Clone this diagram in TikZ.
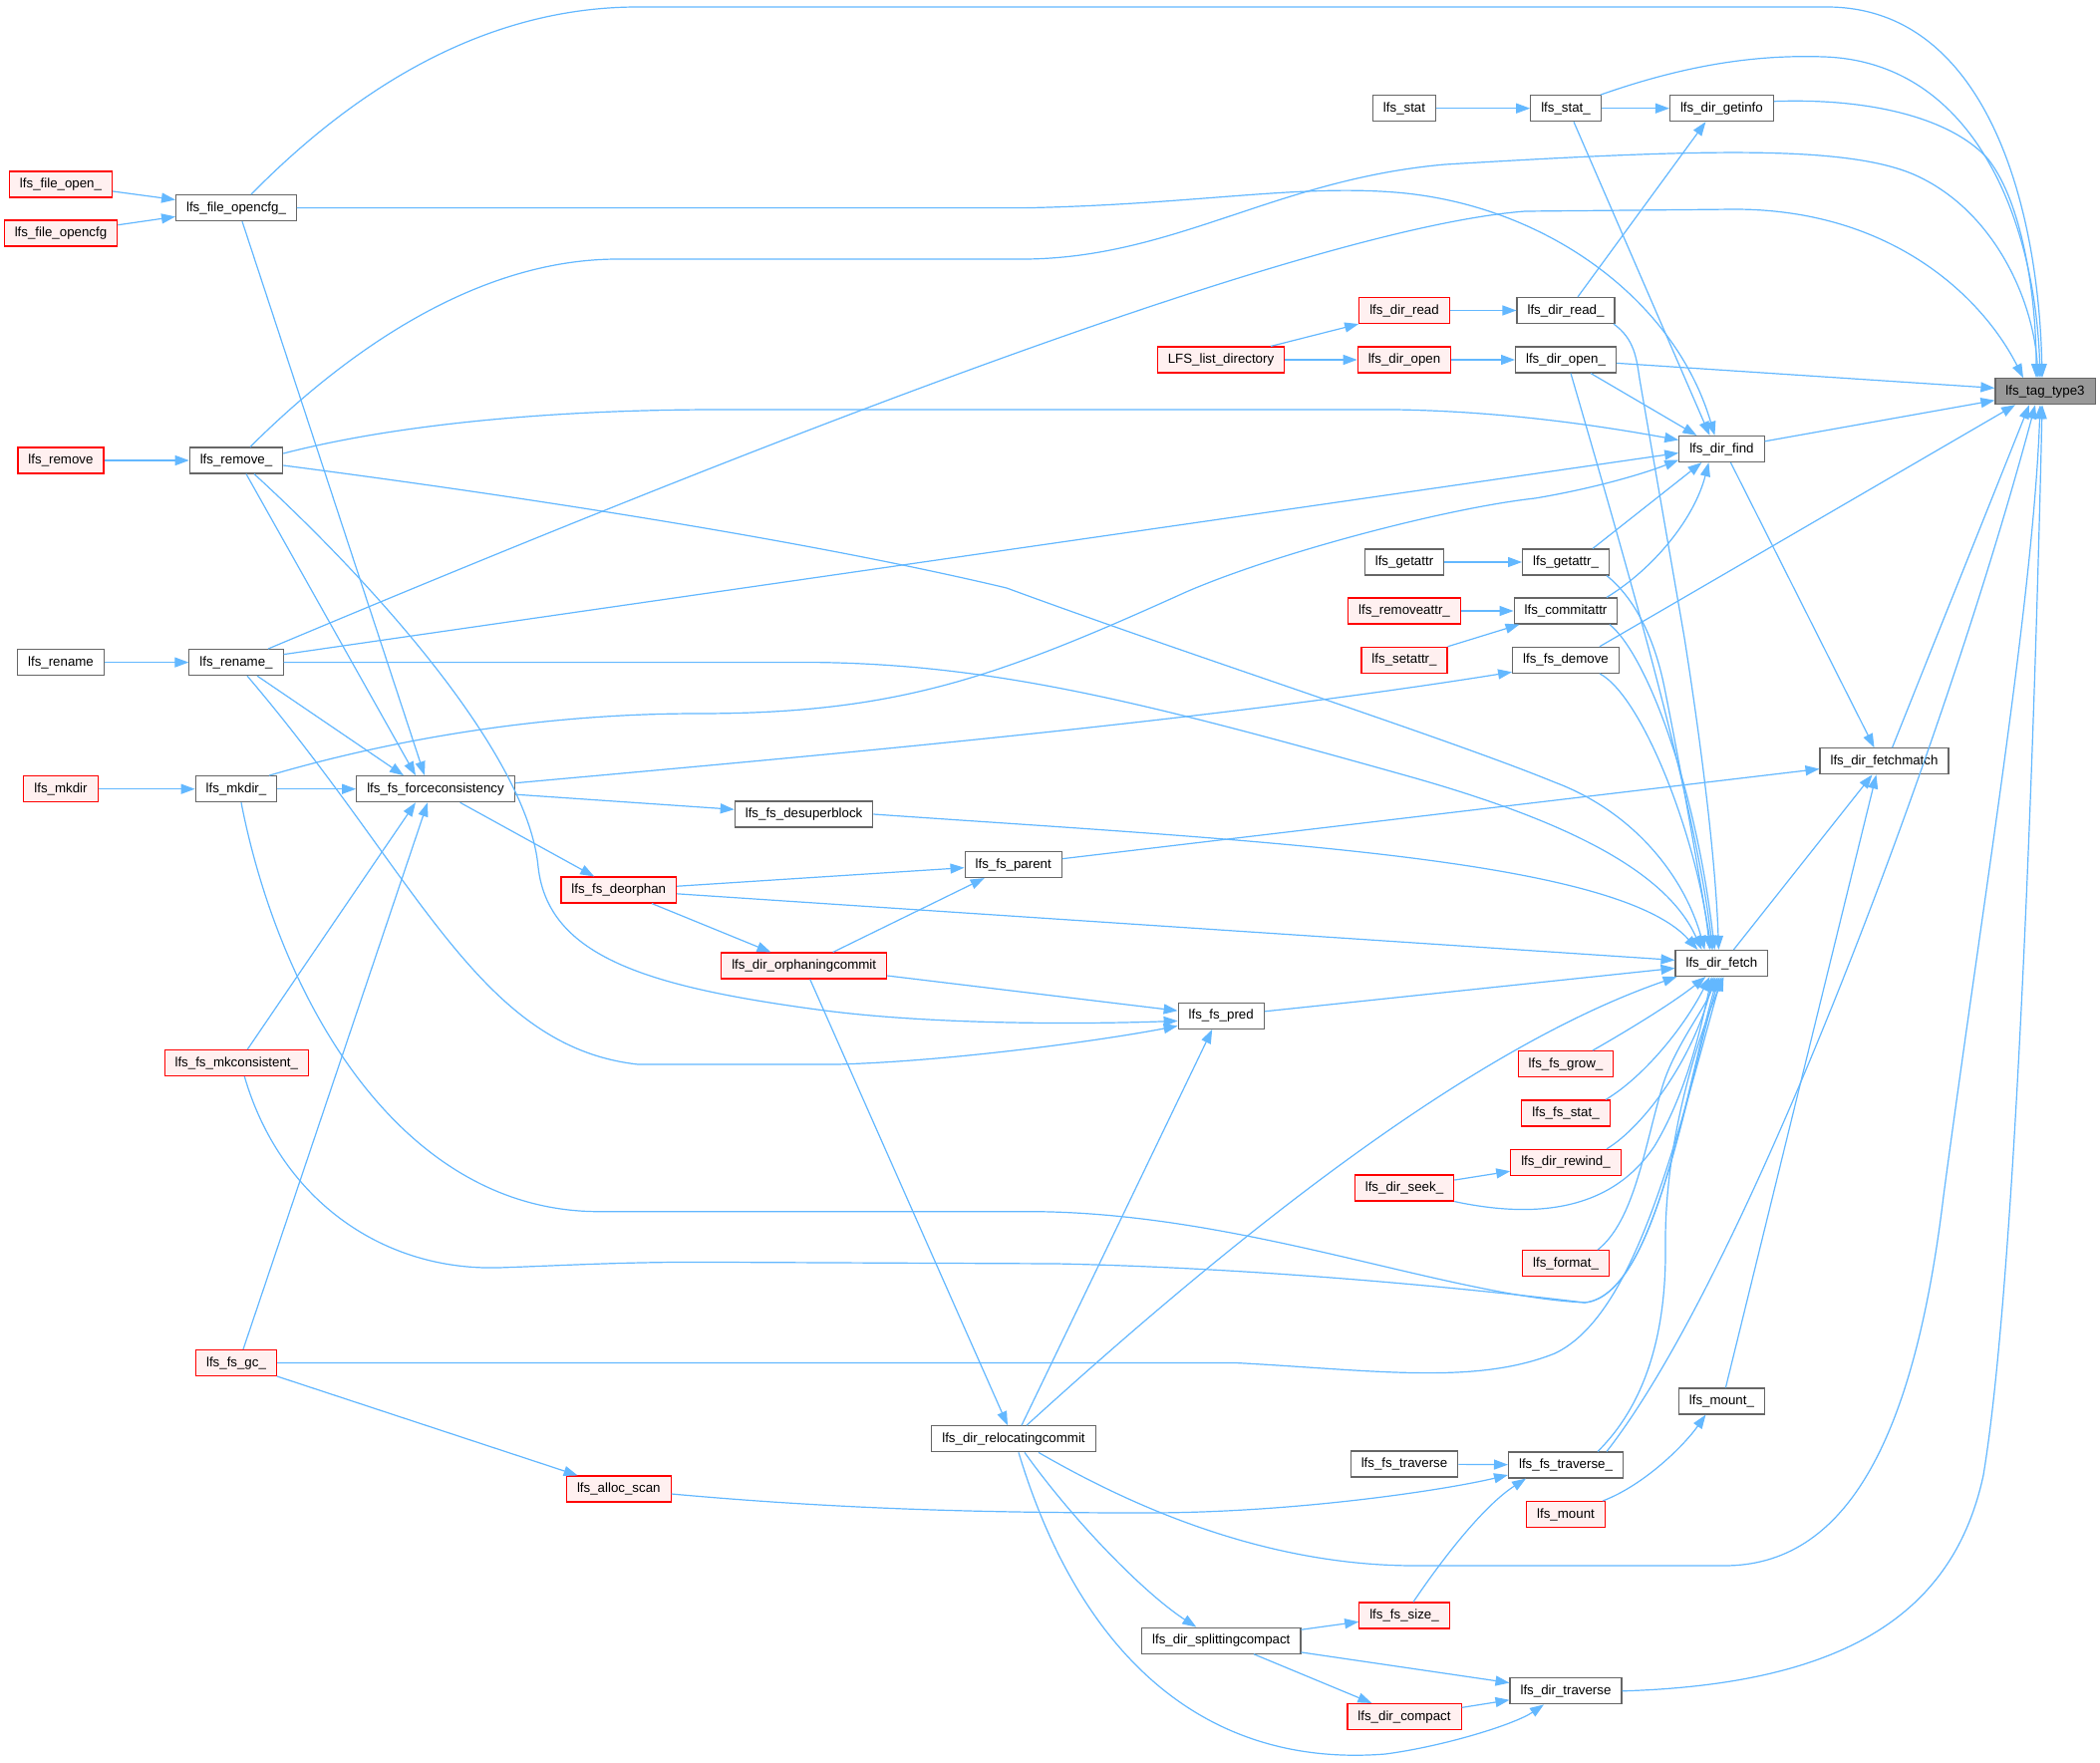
\documentclass[tikz,border=0pt]{standalone}
\usepackage{fontspec}
\setmainfont{Liberation Sans}
\usetikzlibrary{arrows.meta}

\definecolor{edgeblue}{HTML}{63B8FF}
\definecolor{nodegray}{HTML}{666666}
\definecolor{rootfill}{HTML}{999999}
\definecolor{redfill}{HTML}{FFF0F0}

\begin{document}
\begin{tikzpicture}[x=1pt, y=-1pt,
	fn/.style={draw=nodegray, fill=white, line width=1.15pt, minimum height=26pt,
		inner xsep=10.5pt, inner ysep=0pt, text height=10pt, text depth=3pt,
		font=\fontsize{13.3}{15}\selectfont},
	fnred/.style={fn, draw=red, fill=redfill},
	fnroot/.style={fn, fill=rootfill},
	call/.style={draw=edgeblue, line width=1.2pt, -{Triangle[length=14pt,width=10pt]}}]

	% ---- canvas

	\fill[white] (0,0) rectangle (2107,1769);
	\useasboundingbox (0,0) rectangle (2107,1769);

	% ---- nodes

	\node[fnroot] (tag) at (2052,392.7) {lfs\_tag\_type3};

	\node[fn] (stat) at (1409,108.7) {lfs\_stat};
	\node[fn] (statu) at (1571,108.7) {lfs\_stat\_};
	\node[fn] (getinfo) at (1727.4,108.7) {lfs\_dir\_getinfo};
	\node[fnred] (fopen) at (61,185) {lfs\_file\_open\_};
	\node[fnred] (fopencfg) at (61,234) {lfs\_file\_opencfg};
	\node[fn] (fopencfgu) at (237,208.6) {lfs\_file\_opencfg\_};
	\node[fnred] (dread) at (1409,311.5) {lfs\_dir\_read};
	\node[fn] (dreadu) at (1571,311.5) {lfs\_dir\_read\_};
	\node[fnred] (listdir) at (1225,361) {LFS\_list\_directory};
	\node[fnred] (dopen) at (1409,361) {lfs\_dir\_open};
	\node[fn] (dopenu) at (1571,361) {lfs\_dir\_open\_};
	\node[fn] (find) at (1727.4,450.5) {lfs\_dir\_find};
	\node[fnred] (remove) at (61,462) {lfs\_remove};
	\node[fn] (removeu) at (237,462) {lfs\_remove\_};
	\node[fn] (getattr) at (1409,564) {lfs\_getattr};
	\node[fn] (getattru) at (1571,564) {lfs\_getattr\_};
	\node[fnred] (removeattr) at (1409,613) {lfs\_removeattr\_};
	\node[fn] (commitattr) at (1571,613) {lfs\_commitattr};
	\node[fnred] (setattr) at (1409,662.3) {lfs\_setattr\_};
	\node[fn] (demove) at (1571,662.3) {lfs\_fs\_demove};
	\node[fn] (rename) at (61,664.6) {lfs\_rename};
	\node[fn] (renameu) at (237,664.6) {lfs\_rename\_};
	\node[fn] (fetchmatch) at (1890.5,763.8) {lfs\_dir\_fetchmatch};
	\node[fnred] (mkdir) at (61,791.7) {lfs\_mkdir};
	\node[fn] (mkdiru) at (237,791.7) {lfs\_mkdir\_};
	\node[fn] (force) at (437,791.7) {lfs\_fs\_forceconsistency};
	\node[fn] (desuper) at (806.6,817) {lfs\_fs\_desuperblock};
	\node[fn] (parent) at (1016.7,867.5) {lfs\_fs\_parent};
	\node[fnred] (deorphan) at (620.8,893) {lfs\_fs\_deorphan};
	\node[fnred] (orphcommit) at (806.7,969) {lfs\_dir\_orphaningcommit};
	\node[fn] (fetch) at (1727.4,966.5) {lfs\_dir\_fetch};
	\node[fn] (pred) at (1225.2,1019.4) {lfs\_fs\_pred};
	\node[fnred] (grow) at (1571,1067.6) {lfs\_fs\_grow\_};
	\node[fnred] (mkcons) at (237.3,1066.5) {lfs\_fs\_mkconsistent\_};
	\node[fnred] (fsstat) at (1571,1117) {lfs\_fs\_stat\_};
	\node[fnred] (rewind) at (1571,1166.4) {lfs\_dir\_rewind\_};
	\node[fnred] (seek) at (1409,1192) {lfs\_dir\_seek\_};
	\node[fnred] (format) at (1571,1267.6) {lfs\_format\_};
	\node[fnred] (gc) at (237,1367.5) {lfs\_fs\_gc\_};
	\node[fn] (mountu) at (1727.4,1406) {lfs\_mount\_};
	\node[fn] (reloc) at (1017,1443.8) {lfs\_dir\_relocatingcommit};
	\node[fn] (traverse) at (1409,1469) {lfs\_fs\_traverse};
	\node[fn] (traverseu) at (1571,1470) {lfs\_fs\_traverse\_};
	\node[fnred] (allocscan) at (620.8,1494) {lfs\_alloc\_scan};
	\node[fnred] (mount) at (1571,1519.6) {lfs\_mount};
	\node[fnred] (fssize) at (1409,1621) {lfs\_fs\_size\_};
	\node[fn] (split) at (1225.3,1646.2) {lfs\_dir\_splittingcompact};
	\node[fn] (dtraverse) at (1571,1696.8) {lfs\_dir\_traverse};
	\node[fnred] (compact) at (1409,1722.5) {lfs\_dir\_compact};

	% ---- straight calls

	\foreach \a/\b in {stat/statu, statu/getinfo, dread/dreadu, dopen/dopenu,
		listdir/dopen, fopen/fopencfgu, fopencfg/fopencfgu, remove/removeu,
		rename/renameu, mkdir/mkdiru, mkdiru/force, getattr/getattru,
		removeattr/commitattr, dopenu/tag, find/tag, force/desuper,
		force/deorphan, deorphan/parent, deorphan/orphcommit, deorphan/fetch,
		parent/fetchmatch, orphcommit/pred, orphcommit/reloc, pred/fetch,
		split/fssize, split/compact, split/dtraverse, compact/dtraverse,
		seek/rewind, traverse/traverseu, gc/allocscan} {
		\draw[call] (\a) -- (\b);
	}

	\draw[call] ([xshift=8pt]statu.south) -- ([xshift=-12pt]find.north);
	\draw[call] ([xshift=12pt]dreadu.north) -- ([xshift=-16pt]getinfo.south);
	\draw[call] ([xshift=50pt]listdir.north) -- (dread.south west);
	\draw[call] ([xshift=25pt]dopenu.south) -- ([xshift=-25pt]find.north);
	\draw[call] ([xshift=27pt]getattru.north) -- ([xshift=-20pt]find.south);
	\draw[call] (setattr.north east) -- ([xshift=6pt]commitattr.south west);
	\draw[call] ([xshift=34pt]demove.north) -- ([xshift=-30pt]tag.south);
	\draw[call] ([xshift=8pt]fetchmatch.north) -- ([xshift=-16pt]tag.south);
	\draw[call] ([xshift=29pt]orphcommit.north) -- ([xshift=-29pt]parent.south);
	\draw[call] ([xshift=8pt]reloc.north) -- ([xshift=-9pt]pred.south);
	\draw[call] ([xshift=4pt]mountu.north) -- ([xshift=-8pt]fetchmatch.south);
	\draw[call] ([xshift=12pt]fetch.north) -- ([xshift=-12pt]fetchmatch.south);
	\draw[call] ([xshift=9pt]find.south) -- ([xshift=-10pt]fetchmatch.north);
	\draw[call] ([xshift=7pt]gc.north) -- ([xshift=-8pt]force.south);
	\draw[call] ([xshift=11pt]mkcons.north) -- ([xshift=-20pt]force.south);
	\draw[call] ([xshift=21pt]renameu.south) -- ([xshift=-32pt]force.north);
	\draw[call] ([xshift=10pt]removeu.south) -- ([xshift=-20pt]force.north);
	\draw[call] ([xshift=6pt]fopencfgu.south) -- ([xshift=-11pt]force.north);
	\draw[call] ([yshift=8pt]renameu.east) -- ([yshift=-4pt]find.west);

	% ---- into lfs_tag_type3

	\draw[call] ([xshift=15pt]fopencfgu.north) .. controls (370,75) and (500,7) .. (640,7)
		-- (1833,7) .. controls (1990,7) and (2045,200) .. ([xshift=-3pt]tag.north);
	\draw[call] ([xshift=-1pt]statu.north east) .. controls (1700,62) and (1770,55) .. (1830,57)
		.. controls (1980,62) and (2042,220) .. ([xshift=-5pt]tag.north);
	\draw[call] ([yshift=7pt]getinfo.east) .. controls (1880,98) and (1960,120) .. (1995,160)
		.. controls (2030,205) and (2043,300) .. ([xshift=-9pt]tag.north);
	\draw[call] ([xshift=14pt]removeu.north) .. controls (350,350) and (480,260) .. (620,260)
		-- (1030,260) .. controls (1180,258) and (1280,180) .. (1450,165)
		.. controls (1700,150) and (1850,145) .. (1920,175)
		.. controls (2000,210) and (2040,300) .. ([xshift=-7pt]tag.north);
	\draw[call] ([xshift=32pt]renameu.north) .. controls (700,470) and (1300,230) .. (1530,212)
		-- (1740,210) .. controls (1900,210) and (1990,300) .. ([xshift=-22pt]tag.north);
	\draw[call] ([xshift=41pt]traverseu.north) .. controls (1750,1280) and (1950,750) .. ([xshift=-10pt]tag.south);
	\draw[call] ([xshift=25pt]reloc.south) .. controls (1150,1520) and (1280,1571) .. (1420,1571)
		-- (1730,1571) .. controls (1850,1571) and (1920,1450) .. (1950,1200)
		.. controls (1990,900) and (2040,600) .. ([xshift=-5pt]tag.south);
	\draw[call] (dtraverse.east) .. controls (1850,1690) and (1960,1620) .. (1990,1480)
		.. controls (2020,1300) and (2040,800) .. ([xshift=-3pt]tag.south);

	% ---- into lfs_dir_find

	\draw[call] (fopencfgu.east) -- (1030,208.6) .. controls (1200,205) and (1300,185) .. (1400,193)
		.. controls (1550,205) and (1680,300) .. ([xshift=-7pt]find.north);
	\draw[call] ([yshift=7pt]removeu.east) .. controls (400,425) and (560,411) .. (720,411)
		-- (1400,411) .. controls (1520,413) and (1620,430) .. ([yshift=9pt]find.west);
	\draw[call] ([xshift=33pt]mkdiru.north) .. controls (400,740) and (550,716) .. (700,716)
		.. controls (900,716) and (1000,680) .. (1190,594)
		.. controls (1280,555) and (1450,510) .. (1540,500)
		.. controls (1600,490) and (1650,475) .. ([yshift=-11pt]find.west);
	\draw[call] ([xshift=41pt]commitattr.north) .. controls (1660,570) and (1700,520) .. ([xshift=-13pt]find.south);

	% ---- into lfs_dir_fetch

	\draw[call] ([xshift=48pt]dreadu.south) .. controls (1640,340) and (1642,360) .. (1645,380)
		-- (1690,640) .. controls (1712,780) and (1722,880) .. ([xshift=-3pt]fetch.north);
	\draw[call] ([xshift=5pt]dopenu.south) .. controls (1630,560) and (1700,800) .. ([xshift=-9pt]fetch.north);
	\draw[call] ([xshift=41pt]getattru.south) .. controls (1640,600) and (1660,640) .. (1670,690)
		.. controls (1690,790) and (1705,880) .. ([xshift=-10pt]fetch.north);
	\draw[call] ([xshift=44pt]commitattr.south) .. controls (1650,655) and (1700,780) .. ([xshift=-7pt]fetch.north);
	\draw[call] ([xshift=34pt]demove.south) .. controls (1650,700) and (1705,850) .. ([xshift=-12pt]fetch.north);
	\draw[call] ([yshift=-5pt]removeu.east) .. controls (500,495) and (800,540) .. (1010,590)
		.. controls (1200,660) and (1450,740) .. (1560,785)
		.. controls (1640,815) and (1690,880) .. ([xshift=-17pt]fetch.north);
	\draw[call] (renameu.east) -- (820,664.6) .. controls (1000,667) and (1150,705) .. (1410,778)
		.. controls (1560,820) and (1670,870) .. ([xshift=-20pt]fetch.north);
	\draw[call] (desuper.east) .. controls (1250,843) and (1620,860) .. ([xshift=-24pt]fetch.north);
	\draw[call] ([xshift=13pt]reloc.north) .. controls (1250,1230) and (1480,1050) .. ([xshift=2pt]fetch.south west);
	\draw[call] ([xshift=27pt]grow.north) .. controls (1640,1030) and (1680,1005) .. ([xshift=-16pt]fetch.south);
	\draw[call] ([xshift=40pt]fsstat.north) .. controls (1650,1080) and (1690,1030) .. ([xshift=-12pt]fetch.south);
	\draw[call] ([xshift=41pt]rewind.north) .. controls (1650,1130) and (1700,1060) .. ([xshift=-8pt]fetch.south);
	\draw[call] (seek.south east) .. controls (1550,1225) and (1620,1210) .. (1660,1150)
		.. controls (1690,1100) and (1705,1040) .. ([xshift=-10pt]fetch.south);
	\draw[call] ([xshift=32pt]format.north) .. controls (1640,1225) and (1650,1150) .. (1668,1090)
		.. controls (1680,1050) and (1712,1010) .. ([xshift=-6pt]fetch.south);
	\draw[call] ([xshift=5pt]mkdiru.south) .. controls (280,1000) and (400,1215) .. (600,1215.7)
		-- (1040,1215.7) .. controls (1250,1218) and (1450,1300) .. (1590,1307)
		.. controls (1660,1300) and (1690,1100) .. ([xshift=-4pt]fetch.south);
	\draw[call] ([xshift=8pt]mkcons.south) .. controls (280,1200) and (380,1275) .. (500,1272)
		.. controls (560,1270) and (620,1266.4) .. (700,1266.4)
		-- (1060,1268) .. controls (1250,1272) and (1450,1290) .. (1590,1307)
		.. controls (1660,1300) and (1690,1100) .. ([xshift=-2pt]fetch.south);
	\draw[call] (gc.east) -- (1240,1367.5) .. controls (1380,1375) and (1480,1390) .. (1560,1358)
		.. controls (1640,1320) and (1680,1150) .. (fetch.south);
	\draw[call] ([xshift=32pt]traverseu.north) .. controls (1650,1410) and (1672,1340) .. (1671,1250)
		.. controls (1670,1150) and (1700,1050) .. ([xshift=2pt]fetch.south);

	% ---- other curved calls

	\draw[call] ([yshift=6pt]force.east) .. controls (800,760) and (1200,725) .. ([yshift=-12pt]demove.west);
	\draw[call] ([xshift=18pt]removeu.south) .. controls (380,590) and (530,760) .. (540,870)
		.. controls (550,960) and (650,990) .. (820,1013)
		.. controls (930,1028) and (1080,1028) .. ([yshift=-5pt]pred.west);
	\draw[call] ([xshift=11pt]renameu.south) .. controls (420,880) and (480,1050) .. (640,1068)
		-- (840,1068) .. controls (950,1065) and (1100,1045) .. ([yshift=-10pt]pred.west);
	\draw[call] ([xshift=11pt]reloc.south) .. controls (1080,1530) and (1150,1600) .. ([xshift=-25pt]split.north);
	\draw[call] ([xshift=5pt]reloc.south) .. controls (1080,1650) and (1200,1775) .. (1390,1760)
		.. controls (1450,1752) and (1520,1730) .. ([xshift=-22pt]dtraverse.south);
	\draw[call] ([xshift=9pt]fssize.north) .. controls (1450,1560) and (1490,1510) .. ([xshift=-40pt]traverseu.south);
	\draw[call] ([yshift=-5pt]allocscan.east) .. controls (850,1515) and (1000,1518) .. (1150,1518)
		.. controls (1300,1518) and (1450,1495) .. ([yshift=-10pt]traverseu.west);
	\draw[call] ([xshift=37pt]mount.north) .. controls (1650,1490) and (1690,1450) .. ([xshift=-16pt]mountu.south);

\end{tikzpicture}
\end{document}
